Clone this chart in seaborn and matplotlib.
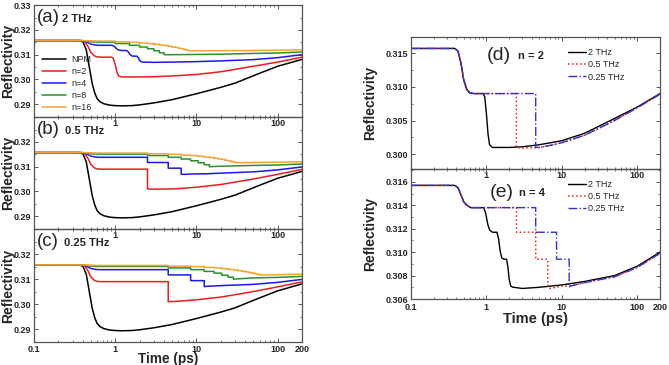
import matplotlib
matplotlib.use("Agg")
import matplotlib.pyplot as plt
import seaborn as sns
import pandas as pd
from matplotlib.ticker import FixedLocator, NullFormatter, LogLocator, MultipleLocator

# ---------------- data ----------------
# NPM (no pulse modulation)
T_NPM = [0.1, 0.36, 0.40, 0.44, 0.48, 0.52, 0.56, 0.60, 0.65, 0.72, 0.85, 1.0, 1.2, 1.6,
         2.0, 3.0, 5.0, 10, 20, 30, 55, 100, 200]
R_NPM = [0.3157, 0.3157, 0.3152, 0.3120, 0.3050, 0.2985, 0.2945, 0.2922, 0.2910, 0.2902,
         0.2896, 0.2894, 0.2893, 0.2894, 0.2897, 0.2905, 0.2918, 0.2942, 0.2968, 0.2985,
         0.3020, 0.3053, 0.3081]

# first-pulse response (head) per n
HEAD_N2_T = [0.1, 0.38, 0.42, 0.46, 0.50, 0.55, 0.60, 0.68]
HEAD_N2_R = [0.3157, 0.3157, 0.3153, 0.3135, 0.3110, 0.3096, 0.3091, 0.3090]
HEAD_N4_T = [0.1, 0.38, 0.42, 0.46, 0.50, 0.55, 0.62]
HEAD_N4_R = [0.3157, 0.3157, 0.3155, 0.3149, 0.3143, 0.3140, 0.3138]
HEAD_N8_T = [0.1, 0.40, 0.46, 0.52, 0.60]
HEAD_N8_R = [0.3157, 0.3157, 0.3154, 0.3152, 0.3151]
HEAD_N16_T = [0.1, 0.42, 0.50, 0.58]
HEAD_N16_R = [0.3157, 0.3157, 0.3156, 0.3155]

# reflectivity level after each pulse
L_N2 = [0.3090, 0.3010]
L_N4 = [0.3138, 0.3117, 0.3094, 0.3070]
L_N8 = [0.3151, 0.3145, 0.3138, 0.3131, 0.3124, 0.3116, 0.3108, 0.3100]
L_N16 = [0.3155, 0.3152, 0.3150, 0.3147, 0.3145, 0.3142, 0.3139, 0.3137,
         0.3134, 0.3131, 0.3129, 0.3126, 0.3124, 0.3121, 0.3119, 0.3116]

# arrival times (ps) of pulses 2..16 for each repetition rate
P_2THZ = [1.0, 1.5, 2.0, 2.5, 3.0, 3.5, 4.0, 4.5, 5.0, 5.5, 6.0, 6.5, 7.0, 7.5, 8.0]
P_05THZ = [2.5, 4.5, 6.5, 8.5, 10.5, 12.5, 14.5, 16.5, 18.5, 20.5, 22.5, 24.5, 26.5, 28.5, 30.5]
P_025THZ = [4.5, 8.5, 12.5, 16.5, 20.5, 24.5, 28.5, 32.5, 36.5, 40.5, 44.5, 48.5, 52.5, 56.5, 60.5]

# smooth later steps at 2 THz (n = 2 and n = 4)
STEP_N2_2THZ_T = [0.90, 0.95, 1.00, 1.05, 1.10, 1.20]
STEP_N2_2THZ_R = [0.3090, 0.3085, 0.3060, 0.3030, 0.3014, 0.3010]
STEP_N4_2THZ_T = [0.92, 0.98, 1.04, 1.10, 1.20, 1.38, 1.45, 1.52, 1.60, 1.70,
                  1.85, 1.93, 2.00, 2.10, 2.25]
STEP_N4_2THZ_R = [0.3138, 0.3133, 0.3124, 0.3119, 0.3117, 0.3117, 0.3111, 0.3101, 0.3095, 0.3094,
                  0.3094, 0.3087, 0.3077, 0.3071, 0.3070]

# recovery tails after the last pulse
TAIL_N2_T = [1.5, 2, 3, 5, 10, 20, 50, 100, 200]
TAIL_N2_R = [0.3010, 0.3010, 0.3011, 0.3014, 0.3020, 0.3031, 0.3053, 0.3070, 0.3090]
TAIL_N2_LOW_T = [3, 5, 7, 10, 20, 50, 100, 200]
TAIL_N2_LOW_R = [0.3009, 0.3010, 0.3013, 0.3017, 0.3028, 0.3050, 0.3069, 0.3089]
TAIL_N4_T = [2.3, 3, 5, 10, 20, 50, 100, 200]
TAIL_N4_R = [0.3070, 0.3069, 0.3070, 0.3072, 0.3075, 0.3080, 0.3088, 0.3100]
TAIL_N4_LOW_T = [7, 10, 13, 20, 50, 100, 200]
TAIL_N4_LOW_R = [0.3069, 0.3071, 0.3071, 0.3074, 0.3079, 0.3087, 0.3099]
TAIL_N8_T = [5, 10, 20, 50, 100, 200]
TAIL_N8_R = [0.3100, 0.3101, 0.3102, 0.3105, 0.3107, 0.3111]
TAIL_N16_T = [9, 20, 50, 100, 200]
TAIL_N16_R = [0.3116, 0.3116, 0.3117, 0.3118, 0.3120]

SERIES = ["NPM", "n=2", "n=4", "n=8", "n=16"]
FREQS = ["2 THz", "0.5 THz", "0.25 THz"]
COLORS = {"NPM": "#000000", "n=2": "#ee1c1c", "n=4": "#1a1aee",
          "n=8": "#2a922a", "n=16": "#f7a234"}


def build(head_t, head_r, pulses, levels, tail_t, tail_r, mid_t=None, mid_r=None):
    t = list(head_t)
    r = list(head_r)
    n = len(levels)
    if mid_t is not None:
        t += list(mid_t)
        r += list(mid_r)
        last = mid_t[-1]
    else:
        for k in range(1, n):
            t += [pulses[k - 1], pulses[k - 1]]
            r += [levels[k - 1], levels[k]]
        last = pulses[n - 2]
    for tt, rr in zip(tail_t, tail_r):
        if tt > last:
            t.append(tt)
            r.append(rr)
    return t, r


PULSES = {"2 THz": P_2THZ, "0.5 THz": P_05THZ, "0.25 THz": P_025THZ}


def curve(series, freq):
    p = PULSES[freq]
    low = freq != "2 THz"
    if series == "NPM":
        return T_NPM, R_NPM
    if series == "n=2":
        if low:
            return build(HEAD_N2_T, HEAD_N2_R, p, L_N2, TAIL_N2_LOW_T, TAIL_N2_LOW_R)
        return build(HEAD_N2_T, HEAD_N2_R, p, L_N2, TAIL_N2_T, TAIL_N2_R,
                     STEP_N2_2THZ_T, STEP_N2_2THZ_R)
    if series == "n=4":
        if low:
            return build(HEAD_N4_T, HEAD_N4_R, p, L_N4, TAIL_N4_LOW_T, TAIL_N4_LOW_R)
        return build(HEAD_N4_T, HEAD_N4_R, p, L_N4, TAIL_N4_T, TAIL_N4_R,
                     STEP_N4_2THZ_T, STEP_N4_2THZ_R)
    if series == "n=8":
        return build(HEAD_N8_T, HEAD_N8_R, p, L_N8, TAIL_N8_T, TAIL_N8_R)
    return build(HEAD_N16_T, HEAD_N16_R, p, L_N16, TAIL_N16_T, TAIL_N16_R)


# ---------------- figure ----------------
sns.set_theme(style="ticks")
plt.rcParams['font.family'] = ['Liberation Sans', 'DejaVu Sans']

W, H = 669, 365
fig = plt.figure(figsize=(W / 100, H / 100), dpi=100)


def box(x0, y0, x1, y1):
    return [x0 / W, 1 - y1 / H, (x1 - x0) / W, (y1 - y0) / H]


SPINE = "#555555"
TICKFS = 6.5


def style(ax, xlabels, yticks, ylabels, ylim, yminor, ylab_x):
    ax.set_xscale("log")
    ax.set_xlim(0.1, 200)
    ax.set_ylim(*ylim)
    ax.patch.set_alpha(0)
    ax.xaxis.set_major_locator(FixedLocator([0.1, 1, 10, 100, 200]))
    ax.set_xticklabels(xlabels)
    ax.xaxis.set_minor_locator(LogLocator(base=10, subs=[2, 3, 4, 5, 6, 7, 8, 9]))
    ax.xaxis.set_minor_formatter(NullFormatter())
    ax.set_yticks(yticks)
    ax.set_yticklabels(ylabels)
    ax.yaxis.set_minor_locator(MultipleLocator(yminor))
    ax.tick_params(which="both", direction="in", top=True, right=True,
                   color=SPINE, labelsize=TICKFS, pad=1.8)
    ax.tick_params(which="major", length=3, width=0.7)
    ax.tick_params(which="minor", length=1.6, width=0.6)
    for lbl in ax.get_xticklabels() + ax.get_yticklabels():
        lbl.set_fontweight("bold")
    for s in ax.spines.values():
        s.set_color(SPINE)
        s.set_linewidth(0.9)
    ax.set_xlabel("")
    ax.set_ylabel("Reflectivity", fontsize=10, fontweight="bold")
    ax.yaxis.set_label_coords(ylab_x, 0.5)


left_boxes = [box(34, 5, 302, 117), box(34, 117, 302, 229), box(34, 229, 302, 342)]
letters = ["(a)", "(b)", "(c)"]
letter_dx = [0.103, 0.117, 0.112]

for i, freq in enumerate(FREQS):
    ax = fig.add_axes(left_boxes[i])
    for s in SERIES:
        t, r = curve(s, freq)
        df = pd.DataFrame({"t": t, "R": r})
        sns.lineplot(data=df, x="t", y="R", ax=ax, color=COLORS[s], lw=1.1,
                     sort=False, estimator=None, legend=False)
    if i < 2:
        xl = ["", "1", "10", "100", ""]
    else:
        xl = ["0.1", "1", "10", "100", "200"]
    if i == 0:
        yt = [0.29, 0.30, 0.31, 0.32, 0.33]
        yl = ["0.29", "0.30", "0.31", "0.32", "0.33"]
    else:
        yt = [0.29, 0.30, 0.31, 0.32]
        yl = ["0.29", "0.30", "0.31", "0.32"]
    style(ax, xl, yt, yl, (0.2848, 0.3301), 0.005, -0.072)
    ax.text(0.012, 0.885, letters[i], transform=ax.transAxes, fontsize=13.5,
            va="center", ha="left")
    ax.text(letter_dx[i], 0.875, freq, transform=ax.transAxes, fontsize=8,
            fontweight="bold", va="center", ha="left")
    if i == 0:
        handles = ax.get_lines()
        ax.legend(handles, SERIES, loc="upper left", bbox_to_anchor=(0.03, 0.555),
                  frameon=False, fontsize=6.5, handlelength=2.6, handletextpad=0.6,
                  labelspacing=0.33, borderpad=0, borderaxespad=0)
    if i == 2:
        ax.set_xlabel("Time (ps)", fontsize=9.8, fontweight="bold")
        ax.xaxis.set_label_coords(0.5, -0.092)

# right panels
RSTY = {"2 THz": ("#000000", "-", 1.0), "0.5 THz": ("#e02020", ":", 1.1),
        "0.25 THz": ("#3333cc", "-.", 1.0)}
right_boxes = [box(411, 37, 660, 169), box(411, 169, 660, 299)]
for j, (ser, lab, lt) in enumerate([("n=2", "(d)", "n = 2"), ("n=4", "(e)", "n = 4")]):
    ax = fig.add_axes(right_boxes[j])
    for freq in FREQS:
        t, r = curve(ser, freq)
        c, ls, lw = RSTY[freq]
        df = pd.DataFrame({"t": t, "R": r})
        sns.lineplot(data=df, x="t", y="R", ax=ax, color=c, linestyle=ls, lw=lw,
                     sort=False, estimator=None, legend=False)
    if j == 0:
        style(ax, ["", "1", "10", "100", ""], [0.300, 0.305, 0.310, 0.315],
              ["0.300", "0.305", "0.310", "0.315"], (0.2978, 0.3174), 0.0025, -0.135)
        ax.text(0.305, 0.862, lab, transform=ax.transAxes, fontsize=14, va="center")
        ax.text(0.43, 0.855, lt, transform=ax.transAxes, fontsize=8,
                fontweight="bold", va="center")
        anchor = (0.632, 0.915)
    else:
        style(ax, ["0.1", "1", "10", "100", "200"],
              [0.306, 0.308, 0.310, 0.312, 0.314, 0.316],
              ["0.306", "0.308", "0.310", "0.312", "0.314", "0.316"],
              (0.3060, 0.3171), 0.001, -0.135)
        ax.tick_params(axis="x", which="both", pad=2.6)
        ax.text(0.318, 0.823, lab, transform=ax.transAxes, fontsize=14, va="center")
        ax.text(0.434, 0.815, lt, transform=ax.transAxes, fontsize=8,
                fontweight="bold", va="center")
        ax.set_xlabel("Time (ps)", fontsize=10.5, fontweight="bold")
        ax.xaxis.set_label_coords(0.5, -0.1)
    ax.legend(ax.get_lines(), FREQS, loc="upper left", bbox_to_anchor=anchor,
              frameon=False, fontsize=6.5, handlelength=1.9, handletextpad=0.3,
              labelspacing=0.35, borderpad=0, borderaxespad=0)

fig.savefig("out.png", dpi=100)
